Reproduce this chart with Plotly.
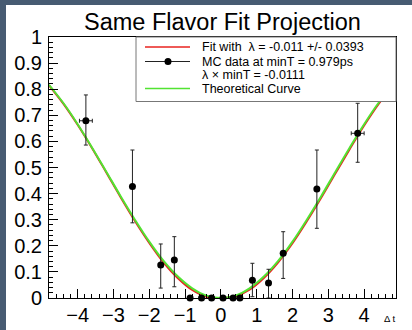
import plotly.graph_objects as go

# ---- data ----
dt_points = [-3.77, -2.47, -1.68, -1.30, -0.86, -0.54, -0.26, 0.06, 0.34, 0.53, 0.88, 1.33, 1.74, 2.68, 3.82]
asym_vals = [0.679, 0.427, 0.126, 0.146, 0.0, 0.0, 0.0, 0.0, 0.0, 0.0, 0.068, 0.057, 0.171, 0.418, 0.631]
err_up    = [0.099, 0.140, 0.081, 0.089, 0.0, 0.0, 0.0, 0.0, 0.0, 0.0, 0.065, 0.053, 0.083, 0.149, 0.115]
err_down  = [0.093, 0.139, 0.088, 0.103, 0.0, 0.0, 0.0, 0.0, 0.0, 0.0, 0.063, 0.057, 0.096, 0.151, 0.111]
err_x     = [0.18, 0, 0, 0, 0, 0, 0, 0, 0, 0, 0, 0, 0, 0, 0.18]

curve_dt  = [-4.8, -4.4, -4.0, -3.6, -3.2, -2.8, -2.4, -2.0, -1.6, -1.2, -0.8, -0.4, 0.0,
             0.4, 0.8, 1.2, 1.6, 2.0, 2.4, 2.8, 3.2, 3.6, 4.0, 4.4, 4.8]
theory    = [0.817, 0.747, 0.666, 0.577, 0.484, 0.390, 0.300, 0.216, 0.142, 0.082, 0.037, 0.009, 0.0,
             0.009, 0.037, 0.082, 0.142, 0.216, 0.300, 0.390, 0.484, 0.577, 0.666, 0.747, 0.817]
fit_curve = [0.815, 0.745, 0.664, 0.575, 0.481, 0.386, 0.295, 0.211, 0.136, 0.076, 0.031, 0.005, 0.0,
             0.006, 0.032, 0.077, 0.137, 0.210, 0.294, 0.384, 0.478, 0.571, 0.661, 0.743, 0.814]

title_text = "Same Flavor Fit Projection"
legend_texts = ["Fit with  λ = -0.011 +/- 0.0393",
                "MC data at minT = 0.979ps",
                "λ × minT = -0.0111",
                "Theoretical Curve"]
x_title = "Δ t"

RED = "#e8231f"
GREEN = "#52e332"
FONT = "Liberation Sans, Arial, Helvetica, sans-serif"

fig = go.Figure()
fig.add_trace(go.Scatter(x=curve_dt, y=fit_curve, mode="lines", line=dict(color=RED, width=2, shape="spline"),
                         showlegend=False))
fig.add_trace(go.Scatter(x=curve_dt, y=theory, mode="lines", line=dict(color=GREEN, width=2, shape="spline"),
                         showlegend=False))
fig.add_trace(go.Scatter(
    x=dt_points, y=asym_vals, mode="markers",
    marker=dict(color="black", size=7),
    error_y=dict(type="data", symmetric=False, array=err_up, arrayminus=err_down,
                 color="#222222", thickness=1, width=2),
    error_x=dict(type="data", array=err_x, color="#222222", thickness=1, width=2),
    cliponaxis=False, showlegend=False))

# plot-area geometry (pixels)
W, H = 412, 330
L, R, T, B = 49, 16, 37, 32
pw, ph = W - L - R, H - T - B

def px(xp):
    return (xp - L) / pw

def py(yp):
    return (H - B - yp) / ph

shapes = [
    # white canvas over dark frame
    dict(type="rect", xref="paper", yref="paper", x0=px(6), x1=px(413), y0=py(331), y1=py(5),
         fillcolor="white", line=dict(width=0), layer="below"),
    # legend box
    dict(type="rect", xref="paper", yref="paper", x0=px(136), x1=px(396), y0=py(101.5), y1=py(37),
         fillcolor="white", line=dict(color="#777777", width=1), layer="above"),
    dict(type="line", xref="paper", yref="paper", x0=px(145), x1=px(190), y0=py(47), y1=py(47),
         line=dict(color=RED, width=1.5), layer="above"),
    dict(type="line", xref="paper", yref="paper", x0=px(145), x1=px(190), y0=py(61.5), y1=py(61.5),
         line=dict(color="#222222", width=1), layer="above"),
    dict(type="circle", xref="paper", yref="paper", xsizemode="pixel", ysizemode="pixel",
         xanchor=px(168), yanchor=py(61.5), x0=-3.5, x1=3.5, y0=-3.5, y1=3.5,
         fillcolor="black", line=dict(width=0), layer="above"),
    dict(type="line", xref="paper", yref="paper", x0=px(145), x1=px(190), y0=py(88.5), y1=py(88.5),
         line=dict(color=GREEN, width=1.5), layer="above"),
]

annotations = [
    dict(text=title_text, xref="paper", yref="paper", x=px(222), y=py(22), xanchor="center", yanchor="middle",
         showarrow=False, font=dict(family=FONT, size=23.5, color="black")),
    dict(text=x_title, xref="paper", yref="paper", x=px(397), y=py(318), xanchor="right", yanchor="middle",
         showarrow=False, font=dict(family=FONT, size=9.5, color="black")),
]
for txt, yp in zip(legend_texts, [47, 61.5, 75, 88.5]):
    annotations.append(dict(text=txt, xref="paper", yref="paper", x=px(200), y=py(yp), xanchor="left",
                            yanchor="middle", showarrow=False,
                            font=dict(family=FONT, size=12.5, color="black")))

axis_common = dict(showline=True, linecolor="black", linewidth=1, mirror=True, ticks="inside",
                   tickcolor="black", tickwidth=1, showgrid=False, zeroline=False, automargin=False,
                   tickfont=dict(family=FONT, size=20, color="black"))

fig.update_layout(
    width=W, height=H,
    margin=dict(l=L, r=R, t=T, b=B, pad=0, autoexpand=False),
    paper_bgcolor="#475b72", plot_bgcolor="white",
    shapes=shapes, annotations=annotations, showlegend=False,
    xaxis=dict(range=[-4.8, 4.89], dtick=1, tick0=0, ticklen=9, ticklabelstandoff=-1,
               minor=dict(ticks="inside", dtick=0.2, tick0=0, ticklen=4, tickcolor="black", tickwidth=1),
               **axis_common),
    yaxis=dict(range=[0, 1], dtick=0.1, tick0=0, ticklen=9, ticklabelstandoff=2,
               minor=dict(ticks="inside", dtick=0.02, tick0=0, ticklen=4, tickcolor="black", tickwidth=1),
               **axis_common),
)

fig.write_html("out.html")
